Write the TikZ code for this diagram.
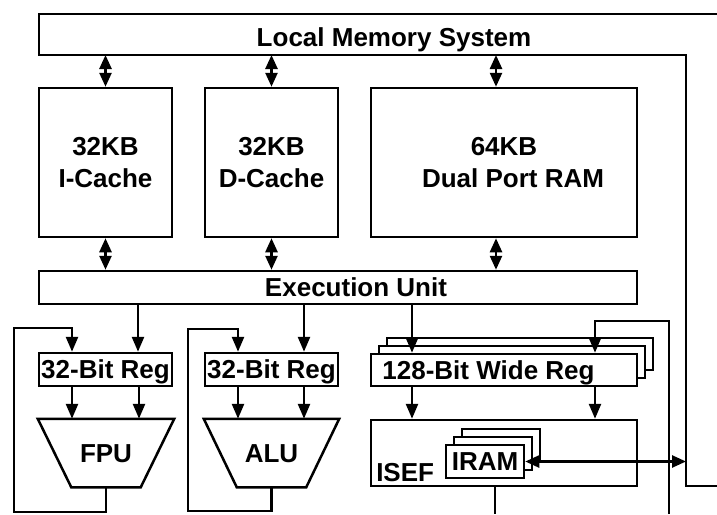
\documentclass[tikz,border=0pt]{standalone}
\usepackage{fontspec}
\setmainfont{Liberation Sans}
\usetikzlibrary{arrows.meta}
\begin{document}
\begin{tikzpicture}[x=1pt,y=-1pt,line width=2.5pt,line join=miter,
  txt/.style={font=\bfseries\fontsize{26}{32}\selectfont},
  box/.style={txt,draw,fill=white,inner sep=0pt},
  one/.style={text height=18.6pt,text depth=0pt},
  arr/.style={-{Triangle[length=15pt,width=12pt]}},
  dbl/.style={{Triangle[length=14pt,width=12pt]}-{Triangle[length=14pt,width=12pt]}},
  lbl/.style={txt,inner sep=0pt}]
\useasboundingbox (0,0) rectangle (717,514);

% column coordinates
\coordinate (lmsb) at (0,55);
\coordinate (xD) at (496,0);
\coordinate (xa) at (138,0);
\coordinate (xb) at (304,0);
\coordinate (xc) at (412,0);
\coordinate (xd) at (595,0);
\coordinate (xf1) at (72,0);
\coordinate (xf2) at (139,0);
\coordinate (xl1) at (238,0);
\coordinate (xl2) at (304,0);
\coordinate (busx) at (686,0);
\coordinate (fl1) at (14,512);
\coordinate (fl2) at (14,328);
\coordinate (al1) at (188,511);
\coordinate (al2) at (188,329);
\coordinate (v1) at (669,514);
\coordinate (v2) at (669,321);
\coordinate (isefout) at (495,514);
\coordinate (xo) at (495,0);

% local memory system bus
\draw (717,14) -- (39,14) -- (39,55) -- (686,55) -- (686,486) -- (717,486);
\node[lbl,anchor=base] (lms) at (394,46.5) {Local Memory System};

% memories
\node[box,align=center,minimum width=133pt,minimum height=149pt] (icache) at (105.5,162.5) {32KB\\I-Cache};
\node[box,align=center,minimum width=133pt,minimum height=149pt] (dcache) at (271.5,162.5) {32KB\\D-Cache};
\node[box,align=center,minimum width=266pt,minimum height=149pt] (dpram) at (504,162.5) {64KB\\\hspace*{18pt}Dual Port RAM};

% execution unit
\node[box,one,minimum width=598pt,minimum height=33pt] (exec) at (338,287.5) {\hspace*{36pt}Execution Unit};

% registers
\node[box,one,minimum width=133pt,minimum height=33pt] (reg1) at (105.5,369.5) {32-Bit Reg};
\node[box,one,minimum width=133pt,minimum height=33pt] (reg2) at (271.5,369.5) {32-Bit Reg};
\node[box,minimum width=266pt,minimum height=32pt] (wregC) at (520,354) {};
\node[box,minimum width=266pt,minimum height=32pt] (wregB) at (512,362) {};
\node[box,one,minimum width=266pt,minimum height=32pt] (wreg) at (504,370) {128-Bit Wide Reg\hspace*{31pt}};

% FPU / ALU
\node[lbl,one,minimum width=134pt,minimum height=66pt] (fpu) at (106,453) {FPU};
\draw (fpu.north west) -- (fpu.north east) -- ([xshift=-33.5pt]fpu.south east) -- ([xshift=33.5pt]fpu.south west) -- cycle;
\node[lbl,one,minimum width=133pt,minimum height=66pt] (alu) at (271.5,453) {ALU};
\draw (alu.north west) -- (alu.north east) -- ([xshift=-33pt]alu.south east) -- ([xshift=33pt]alu.south west) -- cycle;

% ISEF and IRAM
\node[box,minimum width=266pt,minimum height=66pt] (isef) at (504,453) {};
\node[lbl,anchor=base west] (iseft) at (375,481) {ISEF};
\node[box,minimum width=78pt,minimum height=33pt] (iramC) at (501,445.5) {};
\node[box,minimum width=78pt,minimum height=33pt] (iramB) at (493,453.5) {};
\node[box,one,minimum width=78pt,minimum height=33pt] (iram) at (485,461.5) {IRAM};

% memory connections
\draw[dbl] (icache.north |- lmsb) -- (icache.north);
\draw[dbl] (dcache.north |- lmsb) -- (dcache.north);
\draw[dbl] (lmsb -| xD) -- (dpram.north -| xD);
\draw[dbl] (icache.south) -- (icache.south |- exec.north);
\draw[dbl] (dcache.south) -- (dcache.south |- exec.north);
\draw[dbl] (dpram.south -| xD) -- (exec.north -| xD);

% execution unit to registers
\draw[arr] (exec.south -| xa) -- (reg1.north -| xa);
\draw[arr] (exec.south -| xb) -- (reg2.north -| xb);
\draw[arr] (exec.south -| xc) -- (wreg.north -| xc);

% registers to units
\draw[arr] (reg1.south -| xf1) -- (fpu.north -| xf1);
\draw[arr] (reg1.south -| xf2) -- (fpu.north -| xf2);
\draw[arr] (reg2.south -| xl1) -- (alu.north -| xl1);
\draw[arr] (reg2.south -| xl2) -- (alu.north -| xl2);
\draw[arr] (wreg.south -| xc) -- (isef.north -| xc);
\draw[arr] (wreg.south -| xd) -- (isef.north -| xd);

% feedback loops
\draw[arr] (fpu.south) |- (fl1) -- (fl2) -| (reg1.north -| xf1);
\draw[arr] (alu.south) |- (al1) -- (al2) -| (reg2.north -| xl1);
\draw[arr] (v1) -- (v2) -| (wreg.north -| xd);

% IRAM to bus, ISEF output
\draw[dbl] (iram.east) -- (iram.east -| busx);
\draw (isef.south -| xo) -- (isefout);
\end{tikzpicture}
\end{document}
